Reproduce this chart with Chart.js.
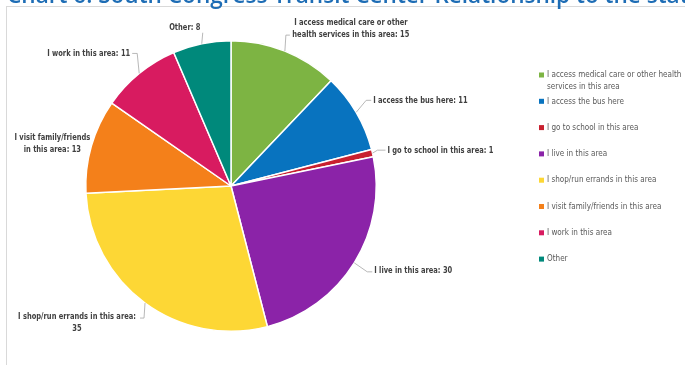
<!DOCTYPE html>
<html>
<head>
<meta charset="utf-8">
<script src="https://cdn.jsdelivr.net/npm/chart.js@4.4.1/dist/chart.umd.min.js"></script>
<style>
  html, body { margin: 0; padding: 0; background: #fff; }
  #wrap { position: relative; width: 685px; height: 365px; overflow: hidden; }
</style>
</head>
<body>
<div id="wrap"><canvas id="pie"></canvas></div>
<script>
// ---- data ----
const categories = [
  'I access medical care or other health services in this area',
  'I access the bus here',
  'I go to school in this area',
  'I live in this area',
  'I shop/run errands in this area',
  'I visit family/friends in this area',
  'I work in this area',
  'Other',
];
const values = [15, 11, 1, 30, 35, 13, 11, 8];
const colors = ['#7db443', '#0873bf', '#c8202f', '#8b23a8', '#fdd735', '#f4801a', '#d81b60', '#00897b'];

const TITLE = 'Chart 6: South Congress Transit Center Relationship to the station area';

// ---- styles ----
const FAMILY = '"Liberation Sans Narrow", "DejaVu Sans Condensed", sans-serif';
const LABEL_FONT = `bold 9px ${FAMILY}`;
const LEGEND_FONT = `8.6px ${FAMILY}`;
const TEXT_GRAY = '#404040';
const LEGEND_GRAY = '#595959';

// the original uses Calibri, which is narrow: squeeze text horizontally so a
// sample string gets the width it has in the picture
function squeeze(ctx, sample, targetW) {
  return targetW / ctx.measureText(sample).width;
}

// where each data label sits, relative to the rim point at the slice's mid angle
// (dx, dy = first text line; leader = elbow points of the connector line)
const labelLayout = [
  { dx: 66, dy: -28, align: 'center', wrap: 125, leader: [[1, -16], [5, -16]] },
  { dx: 17, dy: -12, align: 'left', wrap: 200, leader: [[10, -12], [15, -12]] },
  { dx: 15, dy: -3, align: 'left', wrap: 200, leader: [[5, -3], [13, -3]] },
  { dx: 20, dy: 8, align: 'left', wrap: 200, leader: [[13, 9], [18, 9]] },
  { dx: -68, dy: 14, align: 'center', wrap: 126, leader: [[-1, 15], [-5, 15]] },
  { dx: -39, dy: -8, align: 'center', wrap: 81, leader: [] },
  { dx: -9, dy: -20, align: 'right', wrap: 200, leader: [[-2, -20], [-7, -20]] },
  { dx: -17, dy: -16, align: 'center', wrap: 200, leader: [[1, -11]] },
];

function wrapText(ctx, text, maxW, sx) {
  const words = text.split(' ');
  const lines = [];
  let cur = '';
  for (const w of words) {
    const t = cur ? cur + ' ' + w : w;
    if (cur && ctx.measureText(t).width * sx > maxW) { lines.push(cur); cur = w; }
    else cur = t;
  }
  if (cur) lines.push(cur);
  return lines;
}

function drawSqueezed(ctx, text, x, y, sx) {
  ctx.save();
  ctx.translate(x, y);
  ctx.scale(sx, 1);
  ctx.fillText(text, 0, 0);
  ctx.restore();
}

// light frame of the original chart box (runs off the right/bottom edge)
const frame = {
  id: 'frame',
  beforeDraw(chart) {
    const ctx = chart.ctx;
    ctx.save();
    ctx.strokeStyle = '#d9d9d9';
    ctx.lineWidth = 1;
    ctx.strokeRect(6.5, 6.5, 800, 500);
    ctx.restore();
  },
};

// page heading, cut off by the top of the crop
const titleText = {
  id: 'titleText',
  afterDraw(chart) {
    const ctx = chart.ctx;
    ctx.save();
    ctx.font = '600 100px "Open Sans", sans-serif';
    const w = ctx.measureText('Chart 6: South Congress Transit Center Relationship to the ').width;
    const size = 100 * 640 / w;
    ctx.font = `600 ${size}px "Open Sans", sans-serif`;
    ctx.fillStyle = '#1e6db5';
    ctx.textBaseline = 'alphabetic';
    ctx.textAlign = 'left';
    ctx.fillText(TITLE, 7, 3);
    ctx.restore();
  },
};

const dataLabels = {
  id: 'dataLabels',
  afterDatasetsDraw(chart) {
    const ctx = chart.ctx;
    const meta = chart.getDatasetMeta(0);
    ctx.save();
    ctx.font = LABEL_FONT;
    const sx = squeeze(ctx, 'I work in this area: 11', 83);
    ctx.fillStyle = TEXT_GRAY;
    ctx.strokeStyle = '#a6a6a6';
    ctx.lineWidth = 0.8;
    ctx.textBaseline = 'middle';
    meta.data.forEach((arc, i) => {
      const p = arc.getProps(['x', 'y', 'startAngle', 'endAngle', 'outerRadius'], true);
      const mid = (p.startAngle + p.endAngle) / 2;
      const ax = p.x + Math.cos(mid) * p.outerRadius;
      const ay = p.y + Math.sin(mid) * p.outerRadius;
      const L = labelLayout[i];
      if (L.leader.length) {
        ctx.beginPath();
        ctx.moveTo(ax, ay);
        L.leader.forEach(([x, y]) => ctx.lineTo(ax + x, ay + y));
        ctx.stroke();
      }
      const lines = wrapText(ctx, `${categories[i]}: ${values[i]}`, L.wrap, sx);
      ctx.textAlign = L.align;
      lines.forEach((ln, k) => drawSqueezed(ctx, ln, ax + L.dx, ay + L.dy + k * 11.5, sx));
    });
    ctx.restore();
  },
};

const sideLegend = {
  id: 'sideLegend',
  afterDraw(chart) {
    const ctx = chart.ctx;
    const x0 = 539, top = 75, step = 26.3;
    ctx.save();
    ctx.font = LEGEND_FONT;
    const sx = squeeze(ctx, 'I access the bus here', 77);
    ctx.textBaseline = 'middle';
    ctx.textAlign = 'left';
    categories.forEach((name, i) => {
      const y = top + i * step;
      ctx.fillStyle = colors[i];
      ctx.fillRect(x0, y - 2.5, 5, 5);
      ctx.fillStyle = LEGEND_GRAY;
      wrapText(ctx, name, 142, sx).forEach((ln, k) => drawSqueezed(ctx, ln, x0 + 8, y + k * 11.5, sx));
    });
    ctx.restore();
  },
};

new Chart(document.getElementById('pie'), {
  type: 'pie',
  data: {
    labels: categories,
    datasets: [{
      data: values,
      backgroundColor: colors,
      borderColor: '#ffffff',
      borderWidth: 1.5,
    }],
  },
  options: {
    responsive: true,
    maintainAspectRatio: false,
    animation: false,
    layout: { padding: { left: 85, right: 308, top: 40, bottom: 33 } },
    plugins: {
      legend: { display: false },
      title: { display: false },
      tooltip: { enabled: false },
    },
  },
  plugins: [frame, dataLabels, sideLegend, titleText],
});
</script>
</body>
</html>
